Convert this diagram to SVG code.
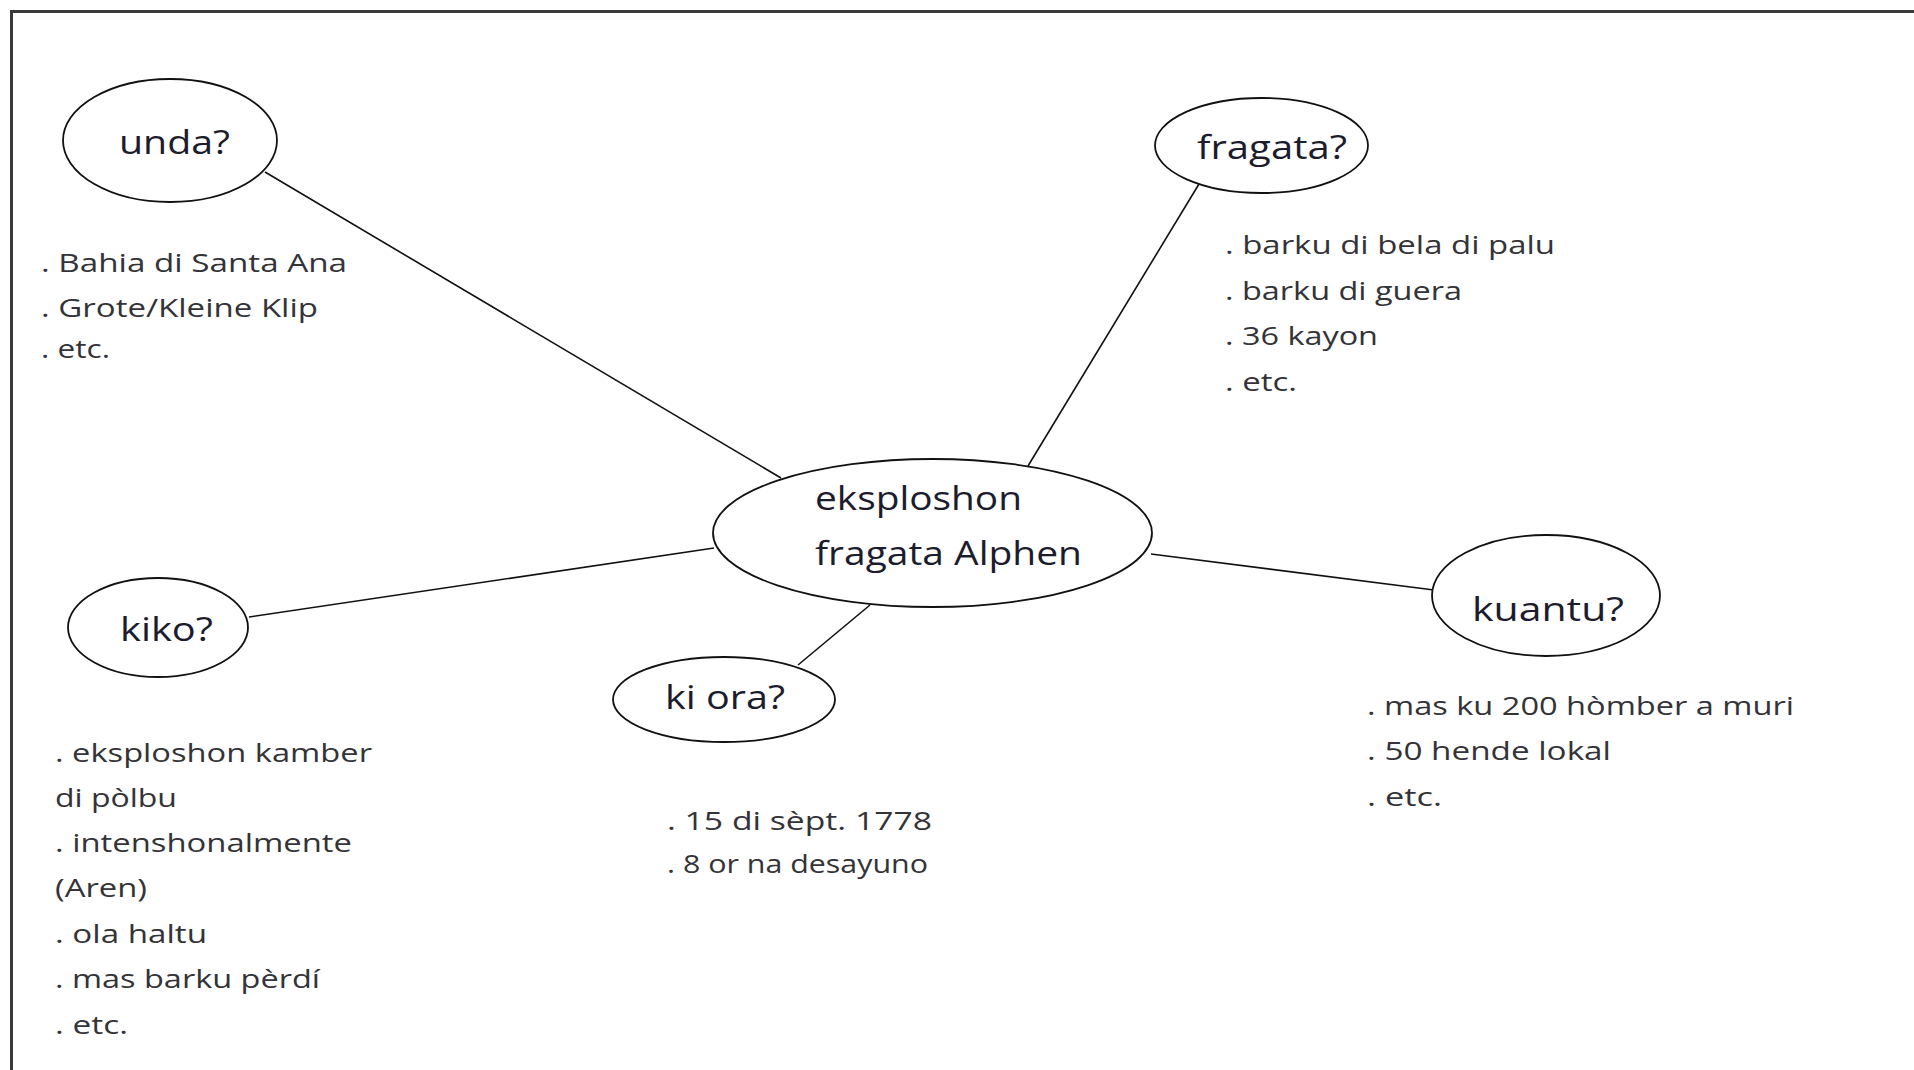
<svg xmlns="http://www.w3.org/2000/svg" width="1914" height="1070" viewBox="0 0 1914 1070">
<style>
.bg{fill:#fff}
.frame{fill:none;stroke:#3a3a3a;stroke-width:3}
.node ellipse{fill:#fff;stroke:#111;stroke-width:1.8}
.title{font-family:"Open Sans","Noto Sans",sans-serif;font-size:33px;fill:#1c1c2c}
.item{font-family:"Open Sans","Noto Sans",sans-serif;font-size:26px;fill:#333338}
#connectors line{stroke:#111;stroke-width:1.6}
</style>
<rect class="bg" x="0" y="0" width="1914" height="1070"/>
<path class="frame" d="M11.5,1070 V11.5 H1914"/>
<g id="connectors">
<line x1="265" y1="172" x2="781" y2="478"/>
<line x1="1199" y1="184" x2="1028" y2="466"/>
<line x1="249" y1="617" x2="714" y2="548"/>
<line x1="798" y1="665" x2="870" y2="605"/>
<line x1="1151" y1="554" x2="1434" y2="590"/>
</g>
<g id="center" class="node">
<ellipse cx="932.5" cy="533" rx="219.5" ry="74"/>
<text class="title" x="815" y="510" textLength="207" lengthAdjust="spacingAndGlyphs">eksploshon</text>
<text class="title" x="815" y="565" textLength="267" lengthAdjust="spacingAndGlyphs">fragata Alphen</text>
</g>
<g id="unda" class="node">
<ellipse cx="170" cy="140.5" rx="107" ry="61.5"/>
<text class="title" x="119" y="154" textLength="111" lengthAdjust="spacingAndGlyphs">unda?</text>
</g>
<g id="unda-list">
<text class="item" x="41" y="272" textLength="306" lengthAdjust="spacingAndGlyphs">. Bahia di Santa Ana</text>
<text class="item" x="41" y="317" textLength="277" lengthAdjust="spacingAndGlyphs">. Grote/Kleine Klip</text>
<text class="item" x="41" y="358" textLength="69" lengthAdjust="spacingAndGlyphs">. etc.</text>
</g>
<g id="fragata" class="node">
<ellipse cx="1261.5" cy="145.5" rx="106.5" ry="47.5"/>
<text class="title" x="1197" y="159" textLength="150" lengthAdjust="spacingAndGlyphs">fragata?</text>
</g>
<g id="fragata-list">
<text class="item" x="1225" y="254" textLength="330" lengthAdjust="spacingAndGlyphs">. barku di bela di palu</text>
<text class="item" x="1225" y="300" textLength="237" lengthAdjust="spacingAndGlyphs">. barku di guera</text>
<text class="item" x="1225" y="345" textLength="153" lengthAdjust="spacingAndGlyphs">. 36 kayon</text>
<text class="item" x="1225" y="391" textLength="72" lengthAdjust="spacingAndGlyphs">. etc.</text>
</g>
<g id="kiko" class="node">
<ellipse cx="158" cy="627.5" rx="90" ry="49.5"/>
<text class="title" x="120" y="641" textLength="93" lengthAdjust="spacingAndGlyphs">kiko?</text>
</g>
<g id="kiko-list">
<text class="item" x="55" y="762" textLength="317" lengthAdjust="spacingAndGlyphs">. eksploshon kamber</text>
<text class="item" x="55" y="807" textLength="122" lengthAdjust="spacingAndGlyphs">di pòlbu</text>
<text class="item" x="55" y="852" textLength="297" lengthAdjust="spacingAndGlyphs">. intenshonalmente</text>
<text class="item" x="55" y="897" textLength="92" lengthAdjust="spacingAndGlyphs">(Aren)</text>
<text class="item" x="55" y="943" textLength="152" lengthAdjust="spacingAndGlyphs">. ola haltu</text>
<text class="item" x="55" y="988" textLength="265" lengthAdjust="spacingAndGlyphs">. mas barku pèrdí</text>
<text class="item" x="55" y="1034" textLength="73" lengthAdjust="spacingAndGlyphs">. etc.</text>
</g>
<g id="kiora" class="node">
<ellipse cx="724" cy="699.5" rx="111" ry="42.5"/>
<text class="title" x="665" y="709" textLength="120" lengthAdjust="spacingAndGlyphs">ki ora?</text>
</g>
<g id="kiora-list">
<text class="item" x="667" y="830" textLength="265" lengthAdjust="spacingAndGlyphs">. 15 di sèpt. 1778</text>
<text class="item" x="667" y="873" textLength="261" lengthAdjust="spacingAndGlyphs">. 8 or na desayuno</text>
</g>
<g id="kuantu" class="node">
<ellipse cx="1546" cy="595.5" rx="114" ry="60.5"/>
<text class="title" x="1472" y="621" textLength="152" lengthAdjust="spacingAndGlyphs">kuantu?</text>
</g>
<g id="kuantu-list">
<text class="item" x="1367" y="715" textLength="427" lengthAdjust="spacingAndGlyphs">. mas ku 200 hòmber a muri</text>
<text class="item" x="1367" y="760" textLength="244" lengthAdjust="spacingAndGlyphs">. 50 hende lokal</text>
<text class="item" x="1367" y="806" textLength="75" lengthAdjust="spacingAndGlyphs">. etc.</text>
</g>
</svg>
